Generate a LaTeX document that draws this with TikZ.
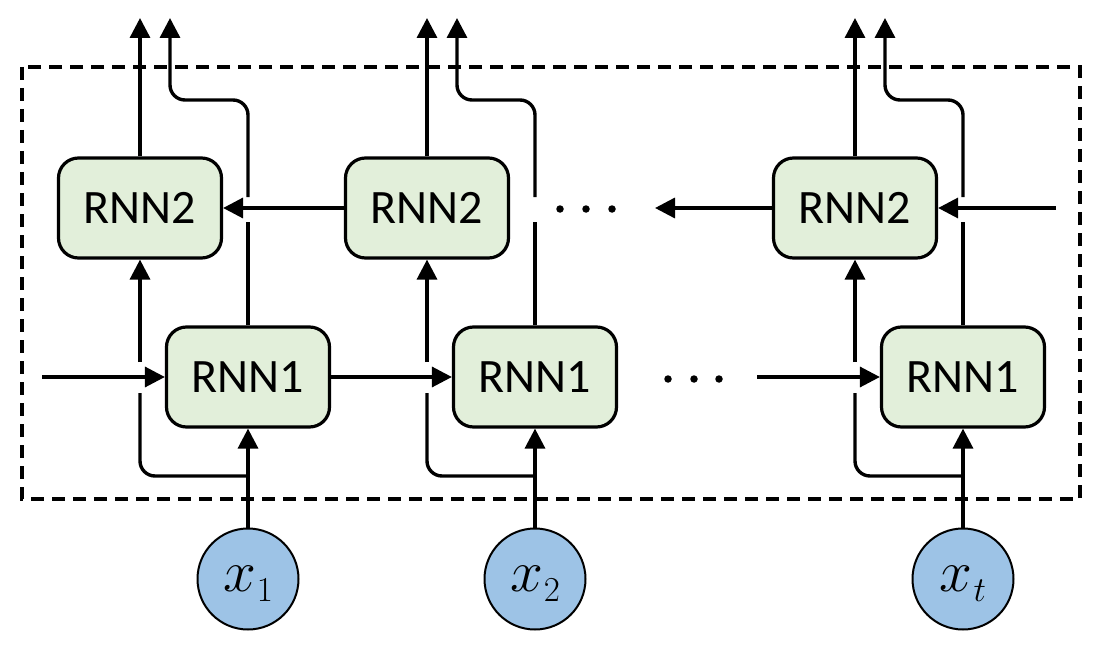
\RequirePackage{fix-cm}
\documentclass[tikz,border=0pt]{standalone}
\usepackage[no-math]{fontspec}
\setmainfont{Carlito}
\usetikzlibrary{arrows.meta}
\definecolor{boxgreen}{HTML}{E2EFDA}
\definecolor{inblue}{HTML}{9DC3E6}
\newcommand\inlabel[1]{{\fontsize{59}{59}\selectfont$x$}\kern1pt\smash{\raisebox{-10pt}{\fontsize{35}{35}\selectfont$#1$}}}
\begin{document}
\begin{tikzpicture}[x=1pt,y=-1pt,
  rnn/.style={draw, line width=3.2pt, fill=boxgreen, rounded corners=20pt,
    minimum width=163pt, minimum height=100pt, inner sep=0pt,
    font=\fontsize{48}{50}\selectfont},
  inp/.style={draw, circle, line width=2pt, fill=inblue, minimum size=101pt, inner sep=0pt},
  conn/.style={line width=3.4pt},
  arr/.style={conn, -{Triangle[length=20pt,width=20pt]}},
  frame/.style={line width=3.2pt, dash pattern=on 13pt off 8pt},
  dotmark/.style={circle, fill, inner sep=0pt, minimum size=7.5pt},
  roundbend/.style={rounded corners=15pt}]
\useasboundingbox (0,0) rectangle (1098,650);
\draw[frame] (22,67) rectangle (1080,499);

\node[rnn] (r2a) at (140,208) {RNN2};
\node[rnn] (r2b) at (427,208) {RNN2};
\node[rnn] (r2c) at (855,208) {RNN2};
\node[rnn] (r1a) at (248,377) {RNN1};
\node[rnn] (r1b) at (535,377) {RNN1};
\node[rnn] (r1c) at (963,377) {RNN1};
\node[inp] (xa) at (248,579) {\inlabel{1}};
\node[inp] (xb) at (535,579) {\inlabel{2}};
\node[inp] (xc) at (963,579) {\inlabel{t}};

\node[dotmark] (d1) at (560,209) {};
\node[dotmark] (d2) at (586,209) {};
\node[dotmark] (d3) at (612,209) {};
\node[dotmark] (d4) at (668,379) {};
\node[dotmark] (d5) at (694,379) {};
\node[dotmark] (d6) at (719,379) {};

\foreach \c/\p/\q in {a/140/248,b/427/535,c/855/963}{
  \coordinate (top2\c) at (\p,18);
  \coordinate (top1\c) at (\p+30,18);
  \draw[arr] (r2\c.north) -- (top2\c);
  \draw[conn] (r1\c.north) -- (\q,222);
  \draw[arr,roundbend] (\q,197) -- (\q,100) -- (\p+30,100) -- (top1\c);
  \draw[arr] (x\c.north) -- (r1\c.south);
  \draw[conn,roundbend] (\q,476) -- (\p,476) -- (\p,393);
  \draw[arr] (\p,362) -- (r2\c.south);
}

\coordinate (ina) at (42,377);
\coordinate (inc) at (757,377);
\coordinate (outc) at (655,208);
\coordinate (inr) at (1056,208);
\draw[arr] (ina) -- (r1a.west);
\draw[arr] (r1a.east) -- (r1b.west);
\draw[arr] (inc) -- (r1c.west);
\draw[arr] (r2b.west) -- (r2a.east);
\draw[arr] (r2c.west) -- (outc);
\draw[arr] (inr) -- (r2c.east);
\end{tikzpicture}
\end{document}
